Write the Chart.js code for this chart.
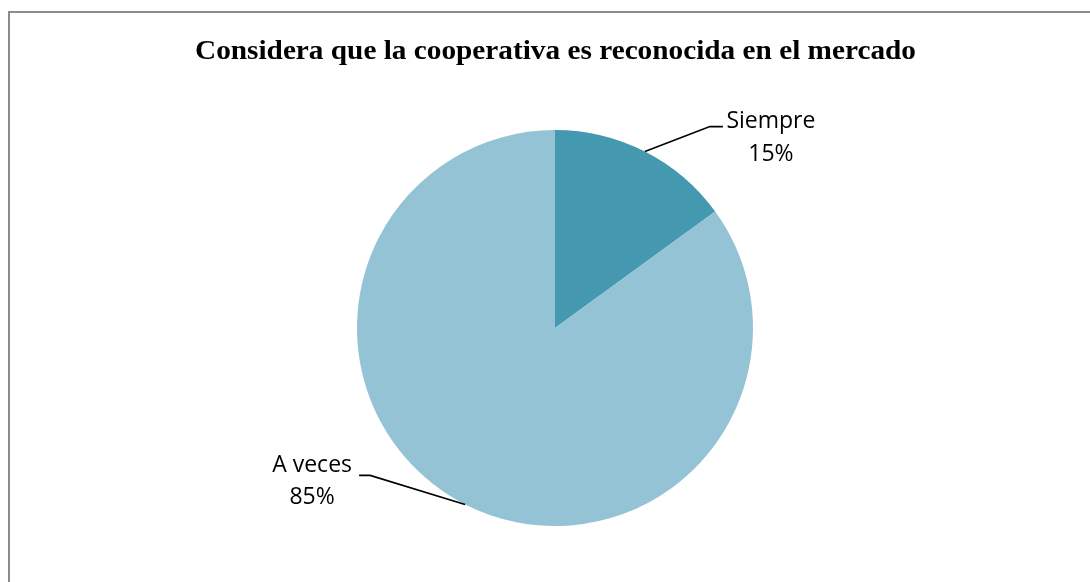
<!DOCTYPE html>
<html>
<head>
<meta charset="utf-8">
<script src="https://cdn.jsdelivr.net/npm/chart.js@4.4.1/dist/chart.umd.min.js"></script>
<style>
    html, body {
        margin: 0;
        padding: 0;
        background: #ffffff;
        overflow: hidden;
    }

    #chart-box {
        position: relative;
        width: 1090px;
        height: 582px;
    }
</style>
</head>
<body>
<div id="chart-box">
    <canvas id="pie-chart"></canvas>
</div>
<script>
// =========================================================
// DATA
// =========================================================

const chartTitle = "Considera que la cooperativa es reconocida en el mercado";
const categories = ["Siempre", "A veces"];
const percentages = [15, 85];
const sliceColors = ["#4499B0", "#93C3D5"];

// =========================================================
// PLUGINS
// =========================================================

// outer frame, only top and left edges fall inside the picture
const framePlugin = {
    id: "frame",
    beforeDraw: function (chart) {
        const ctx = chart.ctx;
        ctx.save();
        ctx.strokeStyle = "#8c8c8c";
        ctx.lineWidth = 2;
        ctx.strokeRect(9, 12, 1200, 700);
        ctx.restore();
    }
};

// condensed bold serif title
const titlePlugin = {
    id: "condensedTitle",
    afterDraw: function (chart) {
        const ctx = chart.ctx;
        ctx.save();
        ctx.font = "bold 28px 'Liberation Serif', 'Times New Roman', serif";
        ctx.fillStyle = "#000000";
        ctx.textBaseline = "alphabetic";
        ctx.textAlign = "left";

        const targetWidth = 721;
        const naturalWidth = ctx.measureText(chartTitle).width;
        const squeeze = targetWidth / naturalWidth;

        ctx.translate(195, 59);
        ctx.scale(squeeze, 1);
        ctx.fillText(chartTitle, 0, 0);
        ctx.restore();
    }
};

// labels with leader lines, one elbow each (offsets from the slice edge / elbow)
const leaderOffsets = [
    { elbowX: 65, elbowY: -25, tail: 13, textX: 126, nameY: 1, valueY: 34 },
    { elbowX: -95, elbowY: -29, tail: -11, textX: -153, nameY: -3, valueY: 29 }
];

const leaderLabelPlugin = {
    id: "leaderLabels",
    afterDatasetsDraw: function (chart) {
        const ctx = chart.ctx;
        const arcs = chart.getDatasetMeta(0).data;

        ctx.save();
        ctx.strokeStyle = "#000000";
        ctx.lineWidth = 1.6;
        ctx.fillStyle = "#000000";
        ctx.font = "23px 'Open Sans', sans-serif";
        ctx.textAlign = "center";
        ctx.textBaseline = "alphabetic";

        for (let arcIndex = 0; arcIndex < arcs.length; arcIndex++) {
            const arc = arcs[arcIndex];
            const offset = leaderOffsets[arcIndex];

            const midAngle = (arc.startAngle + arc.endAngle) / 2;
            const edgeX = arc.x + Math.cos(midAngle) * arc.outerRadius;
            const edgeY = arc.y + Math.sin(midAngle) * arc.outerRadius;

            const elbowX = edgeX + offset.elbowX;
            const elbowY = edgeY + offset.elbowY;

            ctx.beginPath();
            ctx.moveTo(edgeX, edgeY);
            ctx.lineTo(elbowX, elbowY);
            ctx.lineTo(elbowX + offset.tail, elbowY);
            ctx.stroke();

            const textX = edgeX + offset.textX;
            ctx.fillText(categories[arcIndex], textX, elbowY + offset.nameY);
            ctx.fillText(percentages[arcIndex] + "%", textX, elbowY + offset.valueY);
        }

        ctx.restore();
    }
};

// =========================================================
// CHART
// =========================================================

function createPieChart() {
    const canvas = document.getElementById("pie-chart");

    return new Chart(canvas, {
        type: "pie",
        data: {
            labels: categories,
            datasets: [
                {
                    data: percentages,
                    backgroundColor: sliceColors,
                    borderWidth: 0
                }
            ]
        },
        options: {
            responsive: true,
            maintainAspectRatio: false,
            animation: false,
            layout: {
                padding: {
                    top: 130,
                    bottom: 56,
                    left: 20,
                    right: 0
                }
            },
            plugins: {
                legend: {
                    display: false
                },
                title: {
                    display: false
                },
                tooltip: {
                    enabled: false
                }
            }
        },
        plugins: [framePlugin, titlePlugin, leaderLabelPlugin]
    });
}

createPieChart();
</script>
</body>
</html>
